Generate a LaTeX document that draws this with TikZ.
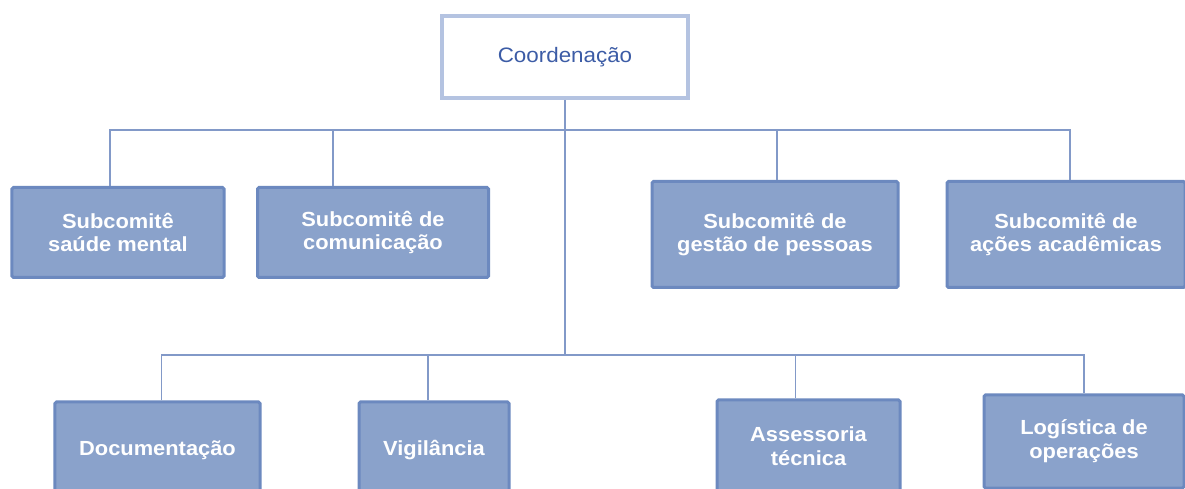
\documentclass[tikz,border=0pt]{standalone}
\usepackage{fontspec}
\setmainfont{Liberation Sans}[FakeStretch=1.07]
\begin{document}
\begin{tikzpicture}[x=1bp,y=-1bp,
  conn/.style={draw=lineblue,line width=1.3bp},
  topbox/.style={draw=topborder,fill=white,line width=4bp,minimum width=246bp,minimum height=82bp,
     text=titleblue,font=\fontsize{21}{24}\selectfont,inner sep=0pt},
  subbox/.style={draw=boxborder,fill=boxfill,line width=3bp,rounded corners=1.5bp,inner sep=0pt,
     text=white,font=\bfseries\fontsize{20.5}{24}\selectfont,align=center}]
\definecolor{lineblue}{HTML}{8299C8}
\definecolor{topborder}{HTML}{B4C3E1}
\definecolor{titleblue}{HTML}{3C5CA6}
\definecolor{boxborder}{HTML}{6C89BF}
\definecolor{boxfill}{HTML}{8AA2CB}
\useasboundingbox (0,0) rectangle (1185,489);
\clip (0,0) rectangle (1185,489);
\fill[white] (0,0) rectangle (1185,489);
% bus coordinates
\coordinate (bus1) at (565,130);
\coordinate (bus2) at (565,355);
% connectors first (behind boxes)
\node[topbox] (coord) at (565,57) {Coordenação};
\node[subbox,minimum width=212bp,minimum height=90bp] (b1) at (118,232.5) {Subcomitê\\saúde mental};
\node[subbox,minimum width=231bp,minimum height=90bp] (b2) at (373,232.5) {Subcomitê de\\comunicação};
\node[subbox,minimum width=246bp,minimum height=106bp] (b3) at (775,234.5) {Subcomitê de\\gestão de pessoas};
\node[subbox,minimum width=238bp,minimum height=106bp] (b4) at (1066,234.5) {Subcomitê de\\ações acadêmicas};
\node[subbox,minimum width=205bp,minimum height=96bp] (c1) at (157.5,450) {Documentação};
\node[subbox,minimum width=150bp,minimum height=96bp] (c2) at (434,450) {Vigilância};
\node[subbox,minimum width=183bp,minimum height=93bp] (c3) at (808.5,446.5) {Assessoria\\técnica};
\node[subbox,minimum width=200bp,minimum height=93bp] (c4) at (1084,441.5) {Logística de\\operações};
% drop points on box tops
\coordinate (d1) at ([xshift=-8bp]b1.north);
\coordinate (d2) at ([xshift=-40bp]b2.north);
\coordinate (d3) at ([xshift=2bp]b3.north);
\coordinate (d4) at ([xshift=4bp]b4.north);
\coordinate (e1) at ([xshift=4bp]c1.north);
\coordinate (e2) at ([xshift=-6bp]c2.north);
\coordinate (e3) at ([xshift=-13bp]c3.north);
\coordinate (e4) at (c4.north);
\begin{scope}[on background layer/.style={}]
\draw[conn] (coord.south) -- (bus2);
\draw[conn] (d1) -- (d1 |- bus1) -- (d4 |- bus1) -- (d4);
\draw[conn] (d2) -- (d2 |- bus1);
\draw[conn] (d3) -- (d3 |- bus1);
\draw[conn] (e1) -- (e1 |- bus2) -- (e4 |- bus2) -- (e4);
\draw[conn] (e2) -- (e2 |- bus2);
\draw[conn] (e3) -- (e3 |- bus2);
\end{scope}
\end{tikzpicture}
\end{document}
